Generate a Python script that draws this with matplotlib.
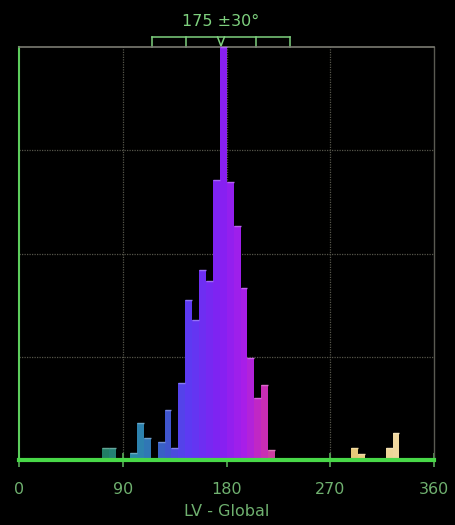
import numpy as np
import matplotlib
matplotlib.use("Agg")
import matplotlib.pyplot as plt
from matplotlib.colors import LinearSegmentedColormap

# Data: 6-degree bins, heights as percent of peak
bin_left = [72, 78, 96, 102, 108, 120, 126, 132, 138, 144, 150, 156, 162, 168,
            174, 180, 186, 192, 198, 204, 210, 216, 288, 294, 318, 324]
counts = [2.9, 2.9, 1.7, 9.0, 5.3, 4.4, 12.1, 2.9, 18.6, 38.7, 33.9, 46.0, 43.3, 67.8,
          100.0, 67.3, 56.7, 41.6, 24.7, 15.0, 18.2, 2.4, 2.9, 1.5, 2.9, 6.5]
bin_width = 6
mean_angle = 175
sd_angle = 30
x_ticks = [0, 90, 180, 270, 360]
x_label = "LV - Global"
title = "175 ±30°"

# angle-dependent colours
anchors = [(0.0, "#1f7a50"), (70/360, "#1f7a58"), (100/360, "#2a8aa8"),
           (125/360, "#3a5cc8"), (145/360, "#5a3cf2"), (175/360, "#8420f2"),
           (195/360, "#a81ee8"), (212/360, "#c82ab8"), (225/360, "#d0508a"),
           (260/360, "#e0a070"), (290/360, "#e8c878"), (330/360, "#f0d8a0"),
           (1.0, "#f0d8a0")]
cmap = LinearSegmentedColormap.from_list("ang", anchors)

W, H = 456, 525
fig = plt.figure(figsize=(W/100, H/100), dpi=100, facecolor="black")
ax = fig.add_axes([19.5/W, 1-460/H, (434-19.5)/W, (460-47)/H])
ax.set_facecolor("black")

centers = np.array(bin_left) + bin_width/2
colors = [cmap(c/360) for c in centers]
ax.bar(bin_left, counts, width=bin_width, align="edge", color=colors,
       edgecolor="none", zorder=3)
# light caps on top of bars
for l, c, col in zip(bin_left, counts, colors):
    r, g, b, a = col
    cap = (min(1, r*0.7+0.3), min(1, g*0.7+0.3), min(1, b*0.7+0.3))
    ax.plot([l, l+bin_width], [c, c], color=cap, lw=1.0, zorder=4,
            solid_capstyle="butt", clip_on=False)

ax.set_xlim(0, 360)
ax.set_ylim(0, 100)

grid_col = "#55554a"
for gx in [90, 180, 270]:
    ax.axvline(gx, color=grid_col, lw=0.9, ls=(0, (1, 1)), zorder=1)
for gy in [25, 50, 75]:
    ax.axhline(gy, color=grid_col, lw=0.9, ls=(0, (1, 1)), zorder=1)

green = "#5ccc5c"
ax.spines["left"].set_color(green)
ax.spines["left"].set_linewidth(1.5)
ax.spines["bottom"].set_color("#48d848")
ax.spines["bottom"].set_linewidth(3)
ax.spines["bottom"].set_zorder(5)
ax.spines["top"].set_color("#7a7a72")
ax.spines["top"].set_linewidth(1.2)
ax.spines["right"].set_color("#5a5a52")
ax.spines["right"].set_linewidth(1.0)

ax.set_xticks(x_ticks)
ax.set_xticklabels([str(t) for t in x_ticks])
ax.tick_params(axis="x", colors="#5aaa5a", direction="inout", length=10,
               width=1.2, labelsize=11.5, pad=11)
for lbl in ax.get_xticklabels():
    lbl.set_color("#6fb06f")
ax.set_yticks([])
ax.set_xlabel(x_label, color="#6fb06f", fontsize=11.5, labelpad=5)

# mean +/- SD bracket above axes
trans = ax.get_xaxis_transform()
yb_top = 1 + 10/413
yb_bot = 1.0
bc = "#7ed07e"
lo2, hi2 = mean_angle - 2*sd_angle, mean_angle + 2*sd_angle
ax.plot([lo2, hi2], [yb_top, yb_top], color=bc, lw=1.1, transform=trans, clip_on=False)
for xx in [lo2, mean_angle - sd_angle, mean_angle + sd_angle, hi2]:
    ax.plot([xx, xx], [yb_top, yb_bot], color=bc, lw=1.1, transform=trans, clip_on=False)
ax.plot([mean_angle - 3, mean_angle, mean_angle + 3], [yb_top, yb_bot + 1/413, yb_top],
        color=bc, lw=1.1, transform=trans, clip_on=False)
ax.text(mean_angle, 1 + 26/413, title, transform=trans, ha="center", va="center",
        color="#7ed07e", fontsize=11.5)

fig.savefig("out.png", dpi=100, facecolor="black")
